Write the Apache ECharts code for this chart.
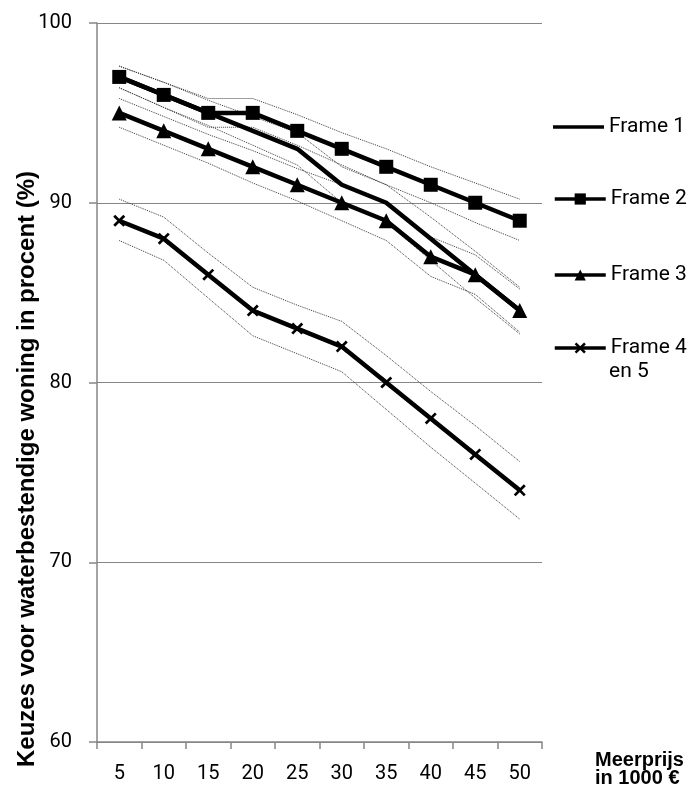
<!DOCTYPE html>
<html>
<head>
<meta charset="utf-8">
<script src="https://cdn.jsdelivr.net/npm/echarts@6/dist/echarts.min.js"></script>
<style>
  html, body { margin: 0; padding: 0; background: #fff; }
  #main { width: 692px; height: 796px; }
</style>
</head>
<body>
<div id="main"></div>
<script>
// categorieen (meerprijs in 1000 euro)
const meerprijs = ['5', '10', '15', '20', '25', '30', '35', '40', '45', '50'];

// hoofdreeksen
const frame1 = [97, 96, 95, 94, 93, 91, 90, 88, 86, 84];
const frame2 = [97, 96, 95, 95, 94, 93, 92, 91, 90, 89];
const frame3 = [95, 94, 93, 92, 91, 90, 89, 87, 86, 84];
const frame45 = [89, 88, 86, 84, 83, 82, 80, 78, 76, 74];

// betrouwbaarheidsbanden (gestippeld)
const frame1Boven = [97.6, 96.7, 95.7, 94.8, 93.9, 92.0, 91.0, 89.2, 87.3, 85.3];
const frame1Onder = [96.4, 95.3, 94.3, 93.2, 92.1, 90.0, 88.9, 86.8, 84.7, 82.7];
const frame2Boven = [97.6, 96.7, 95.8, 95.8, 94.9, 93.9, 93.0, 92.0, 91.1, 90.2];
const frame2Onder = [96.4, 95.3, 94.2, 94.2, 93.2, 92.1, 91.0, 90.0, 88.9, 87.9];
const frame3Boven = [95.8, 94.8, 93.8, 92.9, 91.9, 91.0, 90.0, 88.1, 87.1, 85.2];
const frame3Onder = [94.2, 93.2, 92.2, 91.1, 90.1, 89.0, 87.9, 85.9, 84.9, 82.8];
const frame45Boven = [90.2, 89.2, 87.2, 85.3, 84.3, 83.4, 81.5, 79.5, 77.6, 75.6];
const frame45Onder = [87.9, 86.8, 84.7, 82.6, 81.6, 80.6, 78.5, 76.4, 74.4, 72.4];

const yTicks = [60, 70, 80, 90, 100];

/* ============================
   STIJLEN
============================ */
const grijs = '#868686';
const labelFont = 'Roboto';
const kruis = 'path://M0,1.6L1.6,0L10,8.4L8.4,10Z M8.4,0L10,1.6L1.6,10L0,8.4Z';
const streep = 'path://M0,0H51V3.5H0Z';

function band(naam, data) {
    return {
        name: naam,
        type: 'line',
        data: data,
        symbol: 'none',
        silent: true,
        z: 1,
        lineStyle: { color: '#3a3a3a', width: 1, type: 'dotted' }
    };
}

function hoofd(naam, data, symbool, grootte) {
    return {
        name: naam,
        type: 'line',
        data: data,
        symbol: symbool,
        symbolSize: grootte,
        showSymbol: symbool !== 'none',
        z: 3,
        itemStyle: { color: '#000' },
        lineStyle: { color: '#000', width: 4.5 }
    };
}

function legenda(naam, midden, icoon) {
    const item = icoon ? { name: naam, icon: icoon } : { name: naam };
    return {
        data: [item],
        left: 553,
        top: midden - 12,
        padding: 0,
        itemWidth: 51,
        itemHeight: 14,
        selectedMode: false,
        lineStyle: { width: 3.5 },
        formatter: n => n === 'Frame 4 en 5' ? 'Frame 4' : n,
        textStyle: { fontFamily: labelFont, fontSize: 21, color: '#000', lineHeight: 24 }
    };
}

const chart = echarts.init(document.getElementById('main'));

const option = {
    animation: false,
    backgroundColor: '#fff',
    grid: { left: 97, right: 150, top: 23, bottom: 54 },
    legend: [
        legenda('Frame 1', 127, streep),
        legenda('Frame 2', 199),
        legenda('Frame 3', 275),
        legenda('Frame 4 en 5', 348)
    ],
    xAxis: {
        type: 'category',
        data: meerprijs,
        boundaryGap: true,
        axisLine: { show: true, lineStyle: { color: grijs, width: 1.5 } },
        axisTick: { show: true, length: 7, lineStyle: { color: grijs, width: 1.5 } },
        axisLabel: { margin: 22, fontFamily: labelFont, fontSize: 20, color: '#000' },
        splitLine: { show: false }
    },
    yAxis: {
        type: 'value',
        min: yTicks[0],
        max: yTicks[yTicks.length - 1],
        interval: 10,
        axisLine: { show: true, lineStyle: { color: grijs, width: 1.5 } },
        axisTick: { show: true, length: 8, lineStyle: { color: grijs, width: 1.5 } },
        axisLabel: { margin: 25, fontFamily: labelFont, fontSize: 20, color: '#000' },
        splitLine: { show: true, lineStyle: { color: grijs, width: 1.2 } }
    },
    graphic: [
        {
            type: 'text',
            x: 27,
            y: 469,
            rotation: Math.PI / 2,
            style: {
                text: 'Keuzes voor waterbestendige woning in procent (%)',
                font: 'bold 24px "Liberation Sans", Arial, sans-serif',
                fill: '#000',
                align: 'center',
                verticalAlign: 'middle'
            }
        },
        {
            type: 'text',
            left: 595,
            top: 750,
            style: {
                text: 'Meerprijs\nin 1000 €',
                font: 'bold 20px "Liberation Sans", Arial, sans-serif',
                lineHeight: 18,
                fill: '#000'
            }
        },
        {
            type: 'text',
            left: 609,
            top: 361,
            style: {
                text: 'en 5',
                font: '21px Roboto',
                fill: '#000'
            }
        }
    ],
    series: [
        band('Frame 1 boven', frame1Boven),
        band('Frame 1 onder', frame1Onder),
        band('Frame 2 boven', frame2Boven),
        band('Frame 2 onder', frame2Onder),
        band('Frame 3 boven', frame3Boven),
        band('Frame 3 onder', frame3Onder),
        band('Frame 4 boven', frame45Boven),
        band('Frame 4 onder', frame45Onder),
        hoofd('Frame 1', frame1, 'none', 0),
        hoofd('Frame 2', frame2, 'rect', 14),
        hoofd('Frame 3', frame3, 'triangle', 15),
        hoofd('Frame 4 en 5', frame45, kruis, 12)
    ]
};

chart.setOption(option);
window.addEventListener('resize', () => chart.resize());
</script>
</body>
</html>
